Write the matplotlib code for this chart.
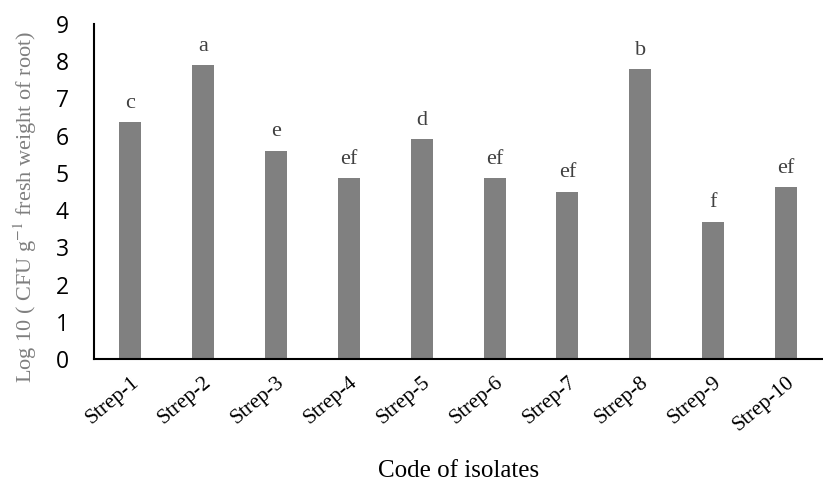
import matplotlib
matplotlib.use("Agg")
import matplotlib.pyplot as plt

plt.rcParams["mathtext.fontset"] = "stix"

categories = ["Strep-1", "Strep-2", "Strep-3", "Strep-4", "Strep-5",
              "Strep-6", "Strep-7", "Strep-8", "Strep-9", "Strep-10"]
values = [6.36, 7.9, 5.6, 4.85, 5.9, 4.85, 4.5, 7.79, 3.69, 4.62]
letters = ["c", "a", "e", "ef", "d", "ef", "ef", "b", "f", "ef"]
yticks = list(range(0, 10))

fig = plt.figure(figsize=(8.23, 4.86), dpi=100)
ax = fig.add_axes([0.1142, 0.2613, 0.885, 0.6893])

x = list(range(len(categories)))
ax.bar(x, values, width=0.30, color="#808080", zorder=2)
for xi, v, l in zip(x, values, letters):
    ax.text(xi, v + 0.25, l, ha="center", va="bottom", fontsize=16,
            family="Liberation Serif", color="#404040")

ax.set_xlim(-0.5, len(categories) - 0.5)
ax.set_ylim(0, 9)
ax.set_yticks(yticks)
ax.set_yticklabels([str(t) for t in yticks], family="Open Sans", fontsize=16.5)
ax.set_xticks(x)
ax.set_xticklabels(categories, rotation=40, ha="right", rotation_mode="anchor",
                   family="Liberation Serif", fontsize=15.5)
ax.tick_params(axis="x", length=0, pad=10)
ax.tick_params(axis="y", length=0, pad=18)

for s in ["top", "right"]:
    ax.spines[s].set_visible(False)
ax.spines["left"].set_linewidth(1.5)
ax.spines["bottom"].set_linewidth(1.5)

ax.set_ylabel("Log 10 ( CFU g$^{-1}$ fresh weight of root)", family="Liberation Serif",
              fontsize=16, color="#7f7f7f")
ax.yaxis.set_label_coords(-0.076, 0.455)
ax.set_xlabel("Code of isolates", family="Liberation Serif", fontsize=18)
ax.xaxis.set_label_coords(0.5, -0.30)

fig.savefig("out.png", dpi=100)
